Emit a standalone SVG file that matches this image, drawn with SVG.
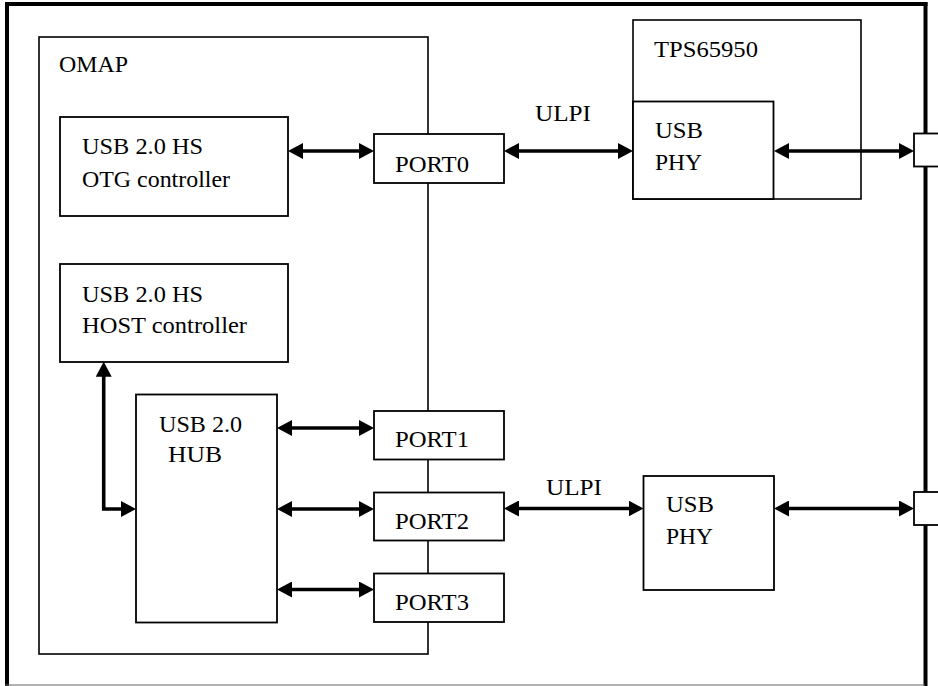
<svg xmlns="http://www.w3.org/2000/svg" width="938" height="686" viewBox="0 0 938 686">
<style>
  .box { fill: #fff; stroke: #000; stroke-width: 1.8; }
  .cont { fill: none; stroke: #000; stroke-width: 1.6; }
  .t { font-family: 'Liberation Serif', 'DejaVu Serif', 'Noto Serif', 'Times New Roman', serif; font-size: 23px; fill: #000; }
  .ar { fill: none; stroke: #000; stroke-width: 3.6; marker-start: url(#ah); marker-end: url(#ah); }
</style>
<defs>
  <marker id="ah" viewBox="0 0 15 16" refX="11" refY="8" markerWidth="15" markerHeight="16" markerUnits="userSpaceOnUse" orient="auto-start-reverse">
    <path d="M0,0 L15,8 L0,16 Z" fill="#000"/>
  </marker>
</defs>
<rect width="938" height="686" fill="#fff"/>

<g id="frame">
  <line x1="5" y1="4" x2="927.5" y2="4" stroke="#000" stroke-width="4"/>
  <line x1="7" y1="2" x2="7" y2="686" stroke="#000" stroke-width="4"/>
  <line x1="925.5" y1="2" x2="925.5" y2="686" stroke="#000" stroke-width="4"/>
  <line x1="5" y1="685" x2="925" y2="685" stroke="#666" stroke-width="1.2"/>
</g>

<g id="omap">
  <rect class="cont" x="39" y="37" width="389" height="617"/>
  <text class="t" font-family="Liberation Serif, DejaVu Serif, serif" x="59" y="72" textLength="69" lengthAdjust="spacingAndGlyphs">OMAP</text>
</g>

<g id="tps65950">
  <rect class="cont" x="633" y="20" width="228" height="179"/>
  <text class="t" x="654" y="57" textLength="104" lengthAdjust="spacingAndGlyphs">TPS65950</text>
</g>

<g id="connectors">
  <line class="ar" x1="292" y1="151" x2="370" y2="151"/>
  <line class="ar" x1="508" y1="151" x2="629" y2="151"/>
  <line class="ar" x1="778" y1="151" x2="910" y2="151"/>
  <line class="ar" x1="281" y1="428" x2="370" y2="428"/>
  <line class="ar" x1="281" y1="509" x2="370" y2="509"/>
  <line class="ar" x1="281" y1="589.5" x2="370" y2="589.5"/>
  <line class="ar" x1="508" y1="508.5" x2="639.5" y2="508.5"/>
  <line class="ar" x1="778" y1="508.5" x2="910" y2="508.5"/>
  <path class="ar" d="M103.7,365.7 V509 H132" stroke-linejoin="miter"/>
  <text class="t" x="535" y="121" textLength="56" lengthAdjust="spacingAndGlyphs">ULPI</text>
  <text class="t" x="546" y="495" textLength="56" lengthAdjust="spacingAndGlyphs">ULPI</text>
</g>

<g id="otg">
  <rect class="box" x="60" y="117" width="228" height="99"/>
  <text class="t" x="82" y="154" textLength="121" lengthAdjust="spacingAndGlyphs">USB 2.0 HS</text>
  <text class="t" x="82" y="187" textLength="148" lengthAdjust="spacingAndGlyphs">OTG controller</text>
</g>

<g id="host">
  <rect class="box" x="60" y="264" width="228" height="98"/>
  <text class="t" x="82" y="302" textLength="121" lengthAdjust="spacingAndGlyphs">USB 2.0 HS</text>
  <text class="t" x="82" y="333" textLength="165" lengthAdjust="spacingAndGlyphs">HOST controller</text>
</g>

<g id="hub">
  <rect class="box" x="136" y="394.5" width="141" height="228"/>
  <text class="t" x="159" y="432" textLength="83" lengthAdjust="spacingAndGlyphs">USB 2.0</text>
  <text class="t" x="168" y="462" textLength="54" lengthAdjust="spacingAndGlyphs">HUB</text>
</g>

<g id="port0">
  <rect class="box" x="374" y="134" width="130" height="49"/>
  <text class="t" x="395" y="171.5" textLength="74" lengthAdjust="spacingAndGlyphs">PORT0</text>
</g>
<g id="port1">
  <rect class="box" x="374" y="411" width="130" height="48.5"/>
  <text class="t" x="395" y="447" textLength="74" lengthAdjust="spacingAndGlyphs">PORT1</text>
</g>
<g id="port2">
  <rect class="box" x="374" y="492.5" width="130" height="48"/>
  <text class="t" x="395" y="528.5" textLength="74" lengthAdjust="spacingAndGlyphs">PORT2</text>
</g>
<g id="port3">
  <rect class="box" x="374" y="573.5" width="130" height="48.5"/>
  <text class="t" x="395" y="610" textLength="74" lengthAdjust="spacingAndGlyphs">PORT3</text>
</g>

<g id="phy1">
  <rect class="box" x="633" y="101.5" width="140.5" height="97.5"/>
  <text class="t" x="655" y="138" textLength="48" lengthAdjust="spacingAndGlyphs">USB</text>
  <text class="t" x="655" y="170" textLength="47" lengthAdjust="spacingAndGlyphs">PHY</text>
</g>

<g id="phy2">
  <rect class="box" x="643.5" y="476" width="130.5" height="114"/>
  <text class="t" x="666" y="512" textLength="48" lengthAdjust="spacingAndGlyphs">USB</text>
  <text class="t" x="666" y="544" textLength="47" lengthAdjust="spacingAndGlyphs">PHY</text>
</g>

<g id="conn1">
  <rect class="box" x="914" y="133.5" width="30" height="33"/>
</g>
<g id="conn2">
  <rect class="box" x="914" y="492" width="30" height="33"/>
</g>
</svg>
